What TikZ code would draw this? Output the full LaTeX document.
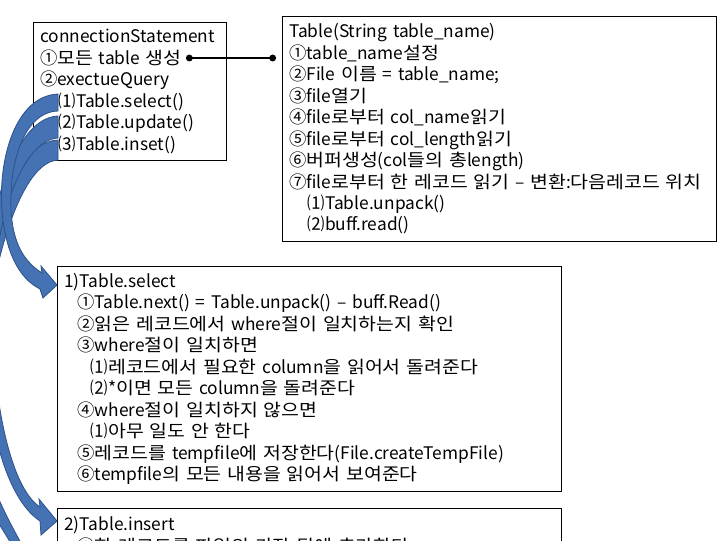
\documentclass[tikz,border=0pt]{standalone}
\usepackage{fontspec}
\setmainfont{Noto Sans CJK KR}
\newfontfamily\krfont{Noto Sans CJK KR}[FakeStretch=1.12]
% Hangul syllables in a slightly wider face
\XeTeXinterchartokenstate=1
\newXeTeXintercharclass\hangulclass
\count255="AC00
\loop
  \XeTeXcharclass\count255=\hangulclass
  \ifnum\count255<"D7A3 \advance\count255 by 1 \repeat
\XeTeXinterchartoks 0 \hangulclass = {\krfont}
\XeTeXinterchartoks 4095 \hangulclass = {\krfont}
\XeTeXinterchartoks \hangulclass 0 = {\rmfamily}
\XeTeXinterchartoks \hangulclass 4095 = {\rmfamily}
\usepackage{tikz}
\usetikzlibrary{arrows.meta}
\definecolor{arrowblue}{RGB}{68,114,178}
\definecolor{arrowedge}{RGB}{46,82,140}
\tikzset{every picture/.style={line width=0.75pt}}
\tikzset{
  stmtbox/.style={draw, anchor=north west, align=left, inner xsep=5pt, inner ysep=3pt,
    font=\fontsize{13}{16.1}\selectfont},
  flowarrow/.style={fill=arrowblue, draw=arrowedge, line width=0.6pt},
  connector/.style={line width=2pt, {Circle[length=5pt]}-{Circle[length=5pt]}}
}

\begin{document}
\begin{tikzpicture}[x=0.75pt,y=0.75pt,yscale=-1,xscale=1]
	\useasboundingbox (0,0) rectangle (720,540);
	\clip (0,0) rectangle (720,540);
	
	%Shape: Rectangle [connection]
	\node [stmtbox, text width=134.75pt, minimum height=103.5pt] (conn) at (33,22) {connectionStatement\\
		①모든 table 생성\\
		②exectueQuery\\
		\hspace*{14pt}⑴Table.select()\\
		\hspace*{14pt}⑵Table.update()\\
		\hspace*{14pt}⑶Table.inset()};
	%Shape: Rectangle [table]
	\node [stmtbox, text width=315.5pt, minimum height=168.75pt] (tbl) at (282,16) {Table(String table\_name)\\
		①table\_name설정\\
		②File 이름 = table\_name;\\
		③file열기\\
		④file로부터 col\_name읽기\\
		⑤file로부터 col\_length읽기\\
		⑥버퍼생성(col들의 총length)\\
		⑦file로부터 한 레코드 읽기 – 변환:다음레코드 위치\\
		\hspace*{14pt}⑴Table.unpack()\\
		\hspace*{14pt}⑵buff.read()};
	%Shape: Rectangle [select]
	\node [stmtbox, text width=368pt, minimum height=168.75pt] (sel) at (57,266) {1)Table.select\\
		\hspace*{10pt}①Table.next() = Table.unpack() – buff.Read()\\
		\hspace*{10pt}②읽은 레코드에서 where절이 일치하는지 확인\\
		\hspace*{10pt}③where절이 일치하면\\
		\hspace*{20pt}⑴레코드에서 필요한 column을 읽어서 돌려준다\\
		\hspace*{20pt}⑵*이면 모든 column을 돌려준다\\
		\hspace*{10pt}④where절이 일치하지 않으면\\
		\hspace*{20pt}⑴아무 일도 안 한다\\
		\hspace*{10pt}⑤레코드를 tempfile에 저장한다(File.createTempFile)\\
		\hspace*{10pt}⑥tempfile의 모든 내용을 읽어서 보여준다};
	%Shape: Rectangle [insert]
	\node [stmtbox, text width=368pt, minimum height=60pt, inner ysep=5pt] (ins) at (57,508) {2)Table.insert\\
		\hspace*{10pt}①한 레코드를 파일의 가장 뒤에 추가한다\\ \strut};
	
	%Straight Lines [connection -> table]
	\coordinate (dotL) at (186,58);
	\coordinate (dotR) at (276,58);
	\draw [connector] (dotL) -- (dotR);
	
	%Curve Lines [flow 3]
	\filldraw [flowarrow] (58,140) .. controls (0,142) and (-32,300) .. (-32,420) .. controls (-32,480) and (-3,520) .. (12,545)
		-- (22,545) .. controls (6,515) and (-20,470) .. (-20,420) .. controls (-20,300) and (15,162) .. (58,160) -- cycle ;
	%Curve Lines [flow 2]
	\filldraw [flowarrow] (58,116) .. controls (10,118) and (-18,230) .. (-16,330) .. controls (-14,430) and (8,500) .. (40,521)
		-- (41,535) -- (57,521) -- (39,499) -- (40,507)
		.. controls (14,490) and (-4,420) .. (-8,330) .. controls (-10,230) and (20,140) .. (58,138) -- cycle ;
	%Curve Lines [flow 1]
	\filldraw [flowarrow] (58,94) .. controls (15,96) and (-2,160) .. (2,210) .. controls (5,250) and (18,278) .. (40,289)
		-- (43,298) -- (57,285) -- (41,266) -- (42,273)
		.. controls (25,262) and (13,245) .. (11,210) .. controls (9,160) and (25,112) .. (58,111) -- cycle ;
	
\end{tikzpicture}
\end{document}
